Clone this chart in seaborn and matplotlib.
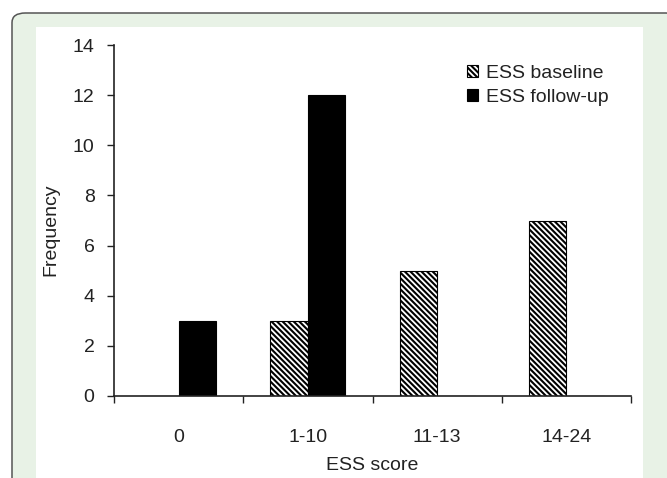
import matplotlib
matplotlib.use("Agg")
import matplotlib.pyplot as plt
import matplotlib.patches as mpatches
import seaborn as sns
import pandas as pd

categories = ["0", "1-10", "11-13", "14-24"]
ess_baseline = [0, 3, 5, 7]
ess_followup = [3, 12, 0, 0]
series_names = ["ESS baseline", "ESS follow-up"]
y_ticks = [0, 2, 4, 6, 8, 10, 12, 14]

df = pd.DataFrame({
    "ESS score": categories * 2,
    "Frequency": ess_baseline + ess_followup,
    "Series": [series_names[0]] * len(categories) + [series_names[1]] * len(categories),
})

sns.set_style("white")
plt.rcParams["font.family"] = ["Liberation Sans", "DejaVu Sans"]
plt.rcParams["hatch.linewidth"] = 1.5
plt.rcParams["hatch.color"] = "black"

HATCH = "\\" * 6
TXT = "#222222"
FS = 14

fig = plt.figure(figsize=(6.67, 4.78), dpi=100)
fig.patch.set_facecolor("white")

# outer green rounded frame and inner white panel
frame = mpatches.FancyBboxPatch((12 / 667, -0.1), 1.0, 1 - 13 / 478 + 0.1,
                                boxstyle="round,pad=0,rounding_size=0.02",
                                transform=fig.transFigure, facecolor="#e8f2e6",
                                edgecolor="#555555", linewidth=1.1, zorder=-2)
fig.patches.append(frame)
inner = mpatches.Rectangle((36 / 667, 0), (643 - 36) / 667, 1 - 27 / 478,
                           transform=fig.transFigure, facecolor="white",
                           edgecolor="none", zorder=-1)
fig.patches.append(inner)

ax = fig.add_axes([114 / 667, 1 - 396 / 478, (631 - 114) / 667, (396 - 45) / 478])
ax.set_facecolor("none")

sns.barplot(data=df, x="ESS score", y="Frequency", hue="Series",
            order=categories, hue_order=series_names,
            palette=["white", "black"], width=0.58, gap=0,
            edgecolor="black", linewidth=0.8, legend=False, ax=ax)

for bar in ax.containers[0]:
    bar.set_hatch(HATCH)
    bar.set_facecolor("white")

ax.set_ylim(0, 14)
ax.set_yticks(y_ticks)
ax.set_xlim(-0.5, len(categories) - 0.5)

for s in ["top", "right"]:
    ax.spines[s].set_visible(False)
for s in ["left", "bottom"]:
    ax.spines[s].set_color(TXT)
    ax.spines[s].set_linewidth(1.2)

ax.tick_params(axis="y", which="major", direction="out", length=5, width=1.0,
               color=TXT, left=True, labelsize=FS, labelcolor=TXT, pad=9)
ax.tick_params(axis="x", which="major", length=0, labelsize=FS, labelcolor=TXT, pad=24)
ax.set_xticks([i - 0.5 for i in range(len(categories) + 1)], minor=True)
ax.tick_params(axis="x", which="minor", direction="out", length=5, width=1.0,
               color=TXT, bottom=True)

ax.set_xlabel("ESS score", fontsize=FS, color=TXT, labelpad=8)
ax.set_ylabel("Frequency", fontsize=FS, color=TXT)
ax.yaxis.set_label_coords(-0.106, 0.473)

handles = [
    mpatches.Patch(facecolor="white", edgecolor="black", hatch=HATCH, linewidth=0.8),
    mpatches.Patch(facecolor="black", edgecolor="black", linewidth=0.8),
]
fig.legend(handles, series_names, loc="upper left",
           bbox_to_anchor=(459 / 667, 1 - 57 / 478), bbox_transform=fig.transFigure,
           borderaxespad=0, frameon=False, fontsize=FS, handlelength=0.57,
           handleheight=0.57, handletextpad=0.4, labelspacing=0.35, labelcolor=TXT)

fig.savefig("out.png", dpi=100, facecolor=fig.get_facecolor())
